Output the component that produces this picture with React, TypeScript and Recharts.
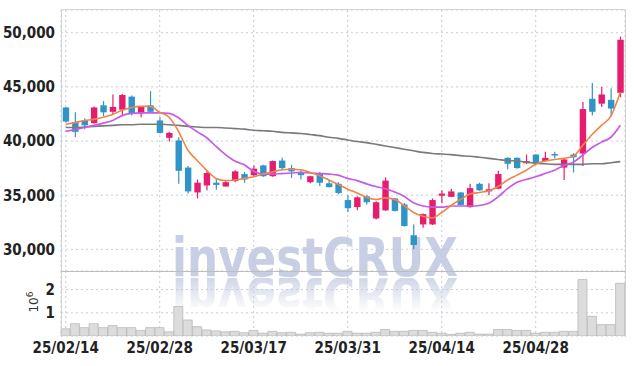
import React from "react";
import { ComposedChart, Bar, Line, XAxis, YAxis, CartesianGrid } from "recharts";

const dates = [
  "25/02/14", "25/02/17", "25/02/18", "25/02/19", "25/02/20", "25/02/21", "25/02/24", "25/02/25", "25/02/26", "25/02/27",
  "25/02/28", "25/03/04", "25/03/05", "25/03/06", "25/03/07", "25/03/10", "25/03/11", "25/03/12", "25/03/13", "25/03/14",
  "25/03/17", "25/03/18", "25/03/19", "25/03/20", "25/03/21", "25/03/24", "25/03/25", "25/03/26", "25/03/27", "25/03/28",
  "25/03/31", "25/04/01", "25/04/02", "25/04/03", "25/04/04", "25/04/07", "25/04/08", "25/04/09", "25/04/10", "25/04/11",
  "25/04/14", "25/04/15", "25/04/16", "25/04/17", "25/04/18", "25/04/21", "25/04/22", "25/04/23", "25/04/24", "25/04/25",
  "25/04/28", "25/04/29", "25/04/30", "25/05/02", "25/05/07", "25/05/08", "25/05/09", "25/05/12", "25/05/13", "25/05/14",
];

const opens = [
  43100, 41750, 41900, 41650, 43300, 42700, 42900, 44100, 42550, 43300,
  41900, 40300, 40050, 37550, 35250, 35900, 36150, 35800, 36300, 36950,
  36850, 37750, 36750, 38200, 37500, 37050, 36200, 37000, 36100, 36050,
  34550, 33900, 34900, 32850, 33600, 34700, 34150, 31300, 32300, 32300,
  34950, 34850, 35250, 33900, 36050, 35350, 35600, 38450, 38450, 37950,
  38750, 38150, 38800, 37550, 38750, 38850, 43900, 43450, 43800, 44450,
];
const highs = [
  43150, 42650, 42100, 43200, 43700, 44300, 44350, 44200, 43200, 44600,
  42200, 40850, 40350, 37700, 36450, 37300, 36550, 36400, 37300, 37150,
  37750, 37800, 38200, 38450, 37800, 37300, 36800, 37150, 36400, 36200,
  35000, 34900, 35000, 34450, 36650, 34750, 34300, 32300, 33300, 34700,
  35450, 35600, 35300, 36050, 36150, 36100, 37250, 38500, 38500, 38750,
  38800, 39000, 39000, 38350, 38900, 43600, 45350, 45000, 44850, 49650,
];
const lows = [
  41700, 40350, 41100, 41600, 42300, 42450, 42350, 42350, 42200, 42600,
  40700, 39950, 36050, 35150, 34700, 35450, 35500, 35800, 36200, 36150,
  36750, 36700, 36700, 37300, 36600, 36450, 36100, 35850, 35700, 35100,
  33450, 33600, 34150, 32750, 33550, 33500, 32100, 30000, 32000, 32250,
  34250, 34800, 34050, 33850, 35400, 35000, 35550, 37400, 37450, 37900,
  37850, 38100, 38400, 36400, 37100, 37700, 42350, 43150, 42300, 44050,
];
const closes = [
  41800, 40850, 41450, 43100, 42650, 43150, 44250, 42550, 43200, 42700,
  40750, 40750, 37250, 35350, 36150, 37050, 35950, 36200, 37200, 36450,
  37450, 36750, 38150, 37500, 37200, 36850, 36750, 36150, 35750, 35200,
  33800, 34800, 34350, 34350, 36350, 33550, 32150, 30400, 33250, 34550,
  35150, 35350, 34100, 35650, 35450, 35550, 36950, 37900, 37500, 38150,
  37900, 38450, 38700, 38300, 38500, 42950, 42700, 44300, 43000, 49350,
];

const ma5 = [
  41550, 41700, 41900, 42000, 42200, 42450, 42850, 43100, 43200, 43200,
  42650, 42200, 40900, 39150, 38200, 37300, 36550, 36350, 36400, 36550,
  36700, 36950, 37150, 37350, 37400, 37350, 37100, 36800, 36400, 36000,
  35550, 35200, 34800, 34600, 34750, 34600, 34050, 33400, 33050, 32900,
  33400, 34050, 34600, 35100, 35250, 35400, 35800, 36400, 36850, 37300,
  37850, 38150, 38300, 38400, 38600, 39600, 40600, 41450, 42300, 44500,
];
const ma10 = [
  40900, 41050, 41250, 41450, 41650, 41900, 42350, 42550, 42600, 42600,
  42600, 42550, 42150, 41450, 40850, 40300, 39500, 38750, 38150, 37800,
  37200, 36950, 36950, 37000, 37050, 37100, 37050, 37000, 36950, 36850,
  36550, 36350, 36050, 35800, 35600, 35300, 34900, 34300, 34000, 33900,
  33900, 34000, 34000, 34000, 34050, 34250, 34850, 35600, 36200, 36450,
  36700, 37000, 37300, 37750, 38050, 38700, 39400, 39900, 40350, 41450,
];
const ma120 = [
  41250, 41250, 41300, 41350, 41400, 41450, 41500, 41500, 41550, 41550,
  41550, 41500, 41450, 41350, 41300, 41250, 41250, 41200, 41150, 41100,
  41000, 40950, 40900, 40800, 40750, 40700, 40600, 40500, 40350, 40250,
  40100, 39950, 39850, 39700, 39550, 39400, 39250, 39100, 38950, 38850,
  38800, 38750, 38650, 38600, 38500, 38400, 38300, 38200, 38150, 38050,
  37950, 37900, 37850, 37850, 37850, 37850, 37900, 37900, 38000, 38100,
];

const volumes = [
  310000, 530000, 360000, 530000, 360000, 450000, 360000, 360000, 240000, 360000,
  360000, 180000, 1270000, 690000, 400000, 260000, 220000, 180000, 200000, 140000,
  240000, 120000, 200000, 140000, 160000, 80000, 140000, 160000, 120000, 120000,
  200000, 120000, 120000, 160000, 280000, 200000, 200000, 240000, 240000, 160000,
  120000, 70000, 120000, 160000, 80000, 80000, 280000, 280000, 240000, 240000,
  120000, 160000, 160000, 200000, 200000, 2430000, 850000, 490000, 490000, 2270000,
];

const dateTicks = ["25/02/14", "25/02/28", "25/03/17", "25/03/31", "25/04/14", "25/04/28"];
const priceTicks = [30000, 35000, 40000, 45000, 50000];
const volumeTicks = [1000000, 2000000];

const UP = "#e51d6c";
const DOWN = "#2f94c7";
const GRID = "#c6cadd";
const FONT = "'Liberation Sans Narrow', 'DejaVu Sans Condensed', sans-serif";
const MARK_FONT = "'DejaVu Sans', sans-serif";

const rows = dates.map((date, i) => ({
  date,
  open: opens[i],
  high: highs[i],
  low: lows[i],
  close: closes[i],
  range: [lows[i], highs[i]],
  ma5: ma5[i],
  ma10: ma10[i],
  ma120: ma120[i],
  volume: volumes[i],
}));

function Candle(props: any) {
  const { x, y, width, height, payload } = props;
  if (!payload) return null;
  const { open, close, high, low } = payload;
  const top = height < 0 ? y + height : y;
  const h = Math.abs(height);
  const k = h / (high - low);
  const cx = x + width / 2;
  const color = close >= open ? UP : DOWN;
  const bodyTop = top + (high - Math.max(open, close)) * k;
  const bodyH = Math.max(1.5, Math.abs(close - open) * k);
  const bw = 6.4;
  return (
    <g>
      <line x1={cx} x2={cx} y1={top} y2={top + h} stroke={color} strokeWidth={1.2} />
      <rect x={cx - bw / 2} y={bodyTop} width={bw} height={bodyH} fill={color} />
    </g>
  );
}

const tickStyle = { fill: "#222", fontSize: 15, fontWeight: 700, fontFamily: FONT };

export default function App() {
  return (
    <div style={{ position: "absolute", left: 0, top: 0, width: 634, height: 366, background: "#fff" }}>
      <svg width={634} height={366} style={{ position: "absolute", left: 0, top: 0 }}>
        <defs>
          <linearGradient id="fade" x1="0" y1="0" x2="0" y2="1">
            <stop offset="0" stopColor="#fff" stopOpacity={0.85} />
            <stop offset="1" stopColor="#fff" stopOpacity={0} />
          </linearGradient>
          <mask id="reflect" maskUnits="userSpaceOnUse" x="0" y="0" width="634" height="366">
            <rect x={0} y={278} width={634} height={34} fill="url(#fade)" />
          </mask>
        </defs>
        <text
          x={172}
          y={276}
          textLength={286}
          lengthAdjust="spacingAndGlyphs"
          fontSize={54}
          fontWeight={700}
          fontFamily={MARK_FONT}
          fill="#c8cfe4"
        >
          investCRUX
        </text>
        <g mask="url(#reflect)">
          <text
            x={172}
            y={277}
            transform="translate(0,555) scale(1,-1)"
            textLength={286}
            lengthAdjust="spacingAndGlyphs"
            fontSize={54}
            fontWeight={700}
            fontFamily={MARK_FONT}
            fill="#c8cfe4"
          >
            investCRUX
          </text>
        </g>
        <text
          x={38}
          y={302}
          transform="rotate(-90 38 302)"
          textAnchor="middle"
          fontSize={12}
          fontFamily="'DejaVu Sans', sans-serif"
          fill="#333"
        >
          10<tspan dy={-5} fontSize={9}>6</tspan>
        </text>
      </svg>

      <div style={{ position: "absolute", left: 0, top: 0 }}>
        <ComposedChart width={634} height={272} data={rows} margin={{ top: 10, right: 9, left: 5, bottom: 1 }}>
          <CartesianGrid stroke={GRID} strokeDasharray="2 3" />
          <XAxis dataKey="date" hide ticks={dateTicks} interval={0} />
          <YAxis
            domain={[28000, 52100]}
            ticks={priceTicks}
            allowDataOverflow
            width={56}
            axisLine={false}
            tickLine={false}
            tickSize={4}
            tickMargin={2}
            tick={tickStyle}
            tickFormatter={(v: number) => v.toLocaleString("en-US")}
          />
          <Bar dataKey="range" shape={<Candle />} isAnimationActive={false} />
          <Line dataKey="ma120" type="monotone" stroke="#7a7a7a" strokeWidth={1.6} dot={false} isAnimationActive={false} />
          <Line dataKey="ma10" type="monotone" stroke="#c95ae6" strokeWidth={1.7} dot={false} isAnimationActive={false} />
          <Line dataKey="ma5" type="monotone" stroke="#ee8548" strokeWidth={1.6} dot={false} isAnimationActive={false} />
        </ComposedChart>
      </div>

      <div style={{ position: "absolute", left: 0, top: 271 }}>
        <ComposedChart width={634} height={95} data={rows} margin={{ top: 0, right: 9, left: 5, bottom: 0 }} barCategoryGap={0}>
          <CartesianGrid stroke={GRID} strokeDasharray="2 3" />
          <XAxis
            dataKey="date"
            ticks={dateTicks}
            interval={0}
            height={30}
            axisLine={false}
            tickLine={false}
            tickSize={4}
            tickMargin={2}
            tick={tickStyle}
          />
          <YAxis
            domain={[0, 2800000]}
            ticks={volumeTicks}
            allowDataOverflow
            width={56}
            axisLine={false}
            tickLine={false}
            tickSize={4}
            tickMargin={2}
            tick={tickStyle}
            tickFormatter={(v: number) => String(v / 1000000)}
          />
          <Bar dataKey="volume" fill="#dcdcdc" stroke="#b9b9b9" strokeWidth={0.8} isAnimationActive={false} />
        </ComposedChart>
      </div>

      <svg width={634} height={366} style={{ position: "absolute", left: 0, top: 0, pointerEvents: "none" }}>
        <line x1={61.5} x2={625.5} y1={9.5} y2={9.5} stroke="#d6d6d6" />
        <line x1={61.5} x2={61.5} y1={9.5} y2={337} stroke="#d0d0d0" />
        <line x1={625.5} x2={625.5} y1={9.5} y2={337} stroke="#d0d0d0" />
        <line x1={61.5} x2={625.5} y1={271.5} y2={271.5} stroke="#bdbdbd" />
      </svg>
    </div>
  );
}
